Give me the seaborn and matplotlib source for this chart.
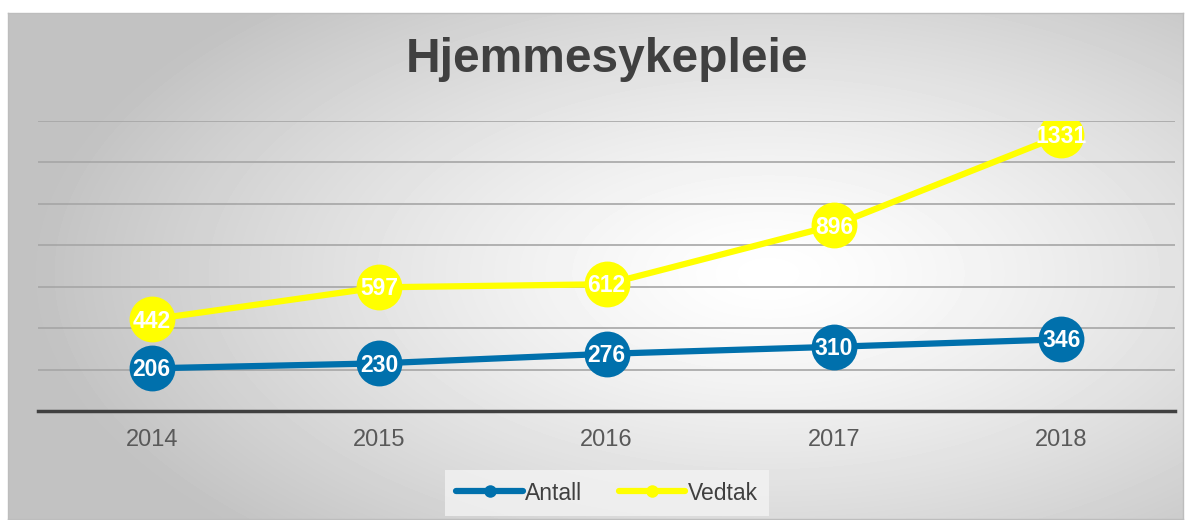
import numpy as np
import pandas as pd
import matplotlib
matplotlib.use("Agg")
import matplotlib.pyplot as plt
import seaborn as sns
from matplotlib.lines import Line2D

years = ["2014", "2015", "2016", "2017", "2018"]
antall = [206, 230, 276, 310, 346]
vedtak = [442, 597, 612, 896, 1331]
title = "Hjemmesykepleie"
series_names = ["Antall", "Vedtak"]
colors = ["#0070AC", "#FFFF00"]

sns.set_theme(style="white")
plt.rcParams['font.family'] = ['Liberation Sans', 'DejaVu Sans']

W, H = 1191, 520
fig = plt.figure(figsize=(W / 100, H / 100), dpi=100)
fig.patch.set_facecolor("white")

# background frame with radial gradient
bx0, bx1, by0, by1 = 8, 1183, 13, 519
bg = fig.add_axes([bx0 / W, 1 - by1 / H, (bx1 - bx0) / W, (by1 - by0) / H], zorder=0)
yy, xx = np.mgrid[0:by1 - by0, 0:bx1 - bx0]
cx, cy = 760, 260
r = np.sqrt(((xx - cx) / 760.0) ** 2 + ((yy - cy) / 380.0) ** 2)
v = np.clip(1.0 - 0.25 * r ** 1.3, 0.76, 1.0)
bg.imshow(v, cmap="gray", vmin=0, vmax=1, aspect="auto", interpolation="bilinear")
bg.set_xticks([]); bg.set_yticks([])
for s in bg.spines.values():
    s.set_color("#bdbdbd")
    s.set_linewidth(1.0)

df = pd.DataFrame({
    "value": antall + vedtak,
    "series": [series_names[0]] * len(years) + [series_names[1]] * len(years),
})
df["x"] = list(range(len(years))) * 2

ax = fig.add_axes([38 / W, 1 - 411 / H, (1175 - 38) / W, (411 - 121) / H], zorder=1)
ax.patch.set_alpha(0)
sns.lineplot(data=df, x="x", y="value", hue="series", palette=colors,
             marker="o", markersize=33, markeredgewidth=0, linewidth=4.5,
             ax=ax, legend=False, zorder=3)

for xi, (a, b) in enumerate(zip(antall, vedtak)):
    for val in (a, b):
        ax.text(xi, val - 8, str(val), ha="center", va="center", color="white",
                fontsize=16.5, fontweight="bold", zorder=5)

ax.set_xlim(-0.5, len(years) - 0.5)
ax.set_ylim(0, 1400)
ax.set_yticks(np.arange(200, 1401, 200))
ax.yaxis.grid(True, color="#a6a6a6", linewidth=1.2)
ax.set_axisbelow(True)
ax.tick_params(axis="y", left=False, labelleft=False)
ax.set_xticks(range(len(years)))
ax.set_xticklabels(years, fontsize=17, color="#595959")
ax.tick_params(axis="x", length=0, pad=13)
ax.set_xlabel(""); ax.set_ylabel("")
for s in ["top", "right", "left"]:
    ax.spines[s].set_visible(False)
ax.spines["bottom"].set_color("#404040")
ax.spines["bottom"].set_linewidth(2.5)

fig.text(607 / W, 1 - 60 / H, title, ha="center", va="center", fontsize=34.5,
         fontweight="bold", color="#404040")

handles = [Line2D([0], [0], color=c, linewidth=4.5, marker="o", markersize=9,
                  markeredgewidth=0) for c in colors]
leg = fig.legend(handles, series_names, loc="center", bbox_to_anchor=(607 / W, 1 - 493 / H),
                 ncol=2, frameon=True, fontsize=16.5, handlelength=2.9, columnspacing=1.6,
                 handletextpad=0.1, borderpad=0.5)
leg.get_frame().set_facecolor("#f3f3f3")
leg.get_frame().set_edgecolor("none")
leg.get_frame().set_boxstyle("square", pad=0.0)
for t in leg.get_texts():
    t.set_color("#404040")

fig.savefig("out.png", dpi=100, facecolor="white")
